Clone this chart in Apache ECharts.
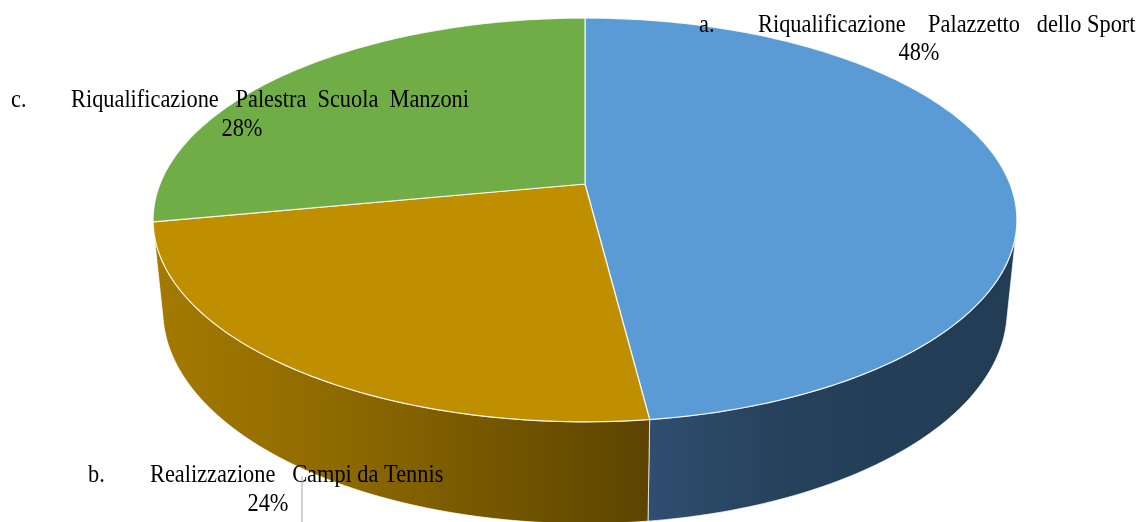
<!DOCTYPE html>
<html>
<head>
<meta charset="utf-8">
<script src="https://cdn.jsdelivr.net/npm/echarts@6/dist/echarts.min.js"></script>
<style>
  html, body { margin: 0; padding: 0; background: #fff; }
  #main { width: 1146px; height: 522px; }
</style>
</head>
<body>
<div id="main"></div>
<script>
// dati
var markers = ['a.', 'b.', 'c.'];
var categories = [
  'Riqualificazione    Palazzetto   dello Sport',
  'Realizzazione   Campi da Tennis',
  'Riqualificazione   Palestra  Scuola  Manzoni'
];
var values = [48, 24, 28];

var topColors = ['#5B9BD5', '#BF8F00', '#70AD47'];
var sideColors = [
  ['#2F4E70', '#25405A', '#223C54'],
  ['#A47A00', '#8C6800', '#5C4400'],
  ['#4E7A33', '#42692B', '#385A24']
];

// posizione delle etichette (marker x, testo x, riga y, percentuale x, percentuale y)
var labelPos = [
  [699, 758, 25, 919, 53],
  [88, 150, 475, 268, 504],
  [11, 71, 100, 242, 129]
];

// camera prospettica per torta di raggio 1
var SIN_P = 0.46, COS_P = Math.sqrt(1 - SIN_P * SIN_P), DIST = 4.99, THICK = 0.2416;

function project(x, y, z) {
  var yc = y * COS_P + z * SIN_P;
  var zc = -y * SIN_P + z * COS_P + DIST;
  return [x * DIST / zc, yc * DIST / zc];
}

var total = values.reduce(function (a, b) { return a + b; }, 0);
var slices = [];
var acc = 0;
values.forEach(function (v) {
  var a0 = 90 - acc / total * 360;
  acc += v;
  slices.push([a0, 90 - acc / total * 360]);
});

// parte visibile della parete laterale
var LIM = Math.asin(1 / (DIST * COS_P)) * 180 / Math.PI;
var VIS0 = -180 + LIM, VIS1 = -LIM;

function arc(api, from, to, y) {
  var n = Math.max(2, Math.ceil(Math.abs(to - from)));
  var pts = [];
  for (var k = 0; k <= n; k++) {
    var t = (from + (to - from) * k / n) * Math.PI / 180;
    pts.push(api.coord(project(Math.cos(t), y, Math.sin(t))));
  }
  return pts;
}

function renderTop(params, api) {
  var i = params.dataIndex;
  var s = slices[i];
  var pts = [api.coord(project(0, 0, 0))].concat(arc(api, s[0], s[1], 0));
  return {
    type: 'polygon',
    shape: { points: pts },
    style: { fill: topColors[i], stroke: 'rgba(255,255,255,0.85)', lineWidth: 1.2 }
  };
}

function renderSide(params, api) {
  var i = params.dataIndex;
  var s = slices[i];
  var hi = Math.min(s[0], VIS1), lo = Math.max(s[1], VIS0);
  if (hi <= lo) return;
  var pts = arc(api, hi, lo, 0).concat(arc(api, lo, hi, -THICK));
  var c = sideColors[i];
  return {
    type: 'polygon',
    shape: { points: pts },
    style: {
      fill: new echarts.graphic.LinearGradient(0, 0, 1, 0, [
        { offset: 0, color: c[0] },
        { offset: 0.4, color: c[1] },
        { offset: 1, color: c[2] }
      ]),
      stroke: 'rgba(255,255,255,0.7)',
      lineWidth: 1
    }
  };
}

var seriesData = values.map(function (v, i) { return [i, v]; });

var graphics = [];
categories.forEach(function (name, i) {
  var p = labelPos[i];
  var font = '26px "Liberation Serif"';
  graphics.push({
    type: 'text', x: p[0], y: p[2], scaleX: 0.86, z: 100,
    style: { text: markers[i], font: font, fill: '#000', align: 'left', verticalAlign: 'middle', textAlign: 'left', textVerticalAlign: 'middle' }
  });
  graphics.push({
    type: 'text', x: p[1], y: p[2], scaleX: 0.86, z: 100,
    style: { text: name, font: font, fill: '#000', align: 'left', verticalAlign: 'middle', textAlign: 'left', textVerticalAlign: 'middle' }
  });
  graphics.push({
    type: 'text', x: p[3], y: p[4], scaleX: 0.86, z: 100,
    style: { text: Math.round(values[i] / total * 100) + '%', font: font, fill: '#000', align: 'center', verticalAlign: 'middle', textAlign: 'center', textVerticalAlign: 'middle' }
  });
});
// linea guida etichetta b
graphics.push({
  type: 'line', z: 100,
  shape: { x1: 302, y1: 476, x2: 302, y2: 522 },
  style: { stroke: '#A6A6A6', lineWidth: 1 }
});

var chart = echarts.init(document.getElementById('main'));
var option = {
  animation: false,
  grid: { left: 0, right: 0, top: 0, bottom: 0 },
  xAxis: { type: 'value', min: -585 / 425, max: 561 / 425, show: false },
  yAxis: { type: 'value', min: -338 / 425, max: 184 / 425, show: false },
  graphic: graphics,
  series: [
    {
      name: 'lati',
      type: 'custom',
      z: 1,
      renderItem: renderSide,
      data: seriesData
    },
    {
      name: 'sopra',
      type: 'custom',
      z: 2,
      renderItem: renderTop,
      data: seriesData
    }
  ]
};
chart.setOption(option);
</script>
</body>
</html>
